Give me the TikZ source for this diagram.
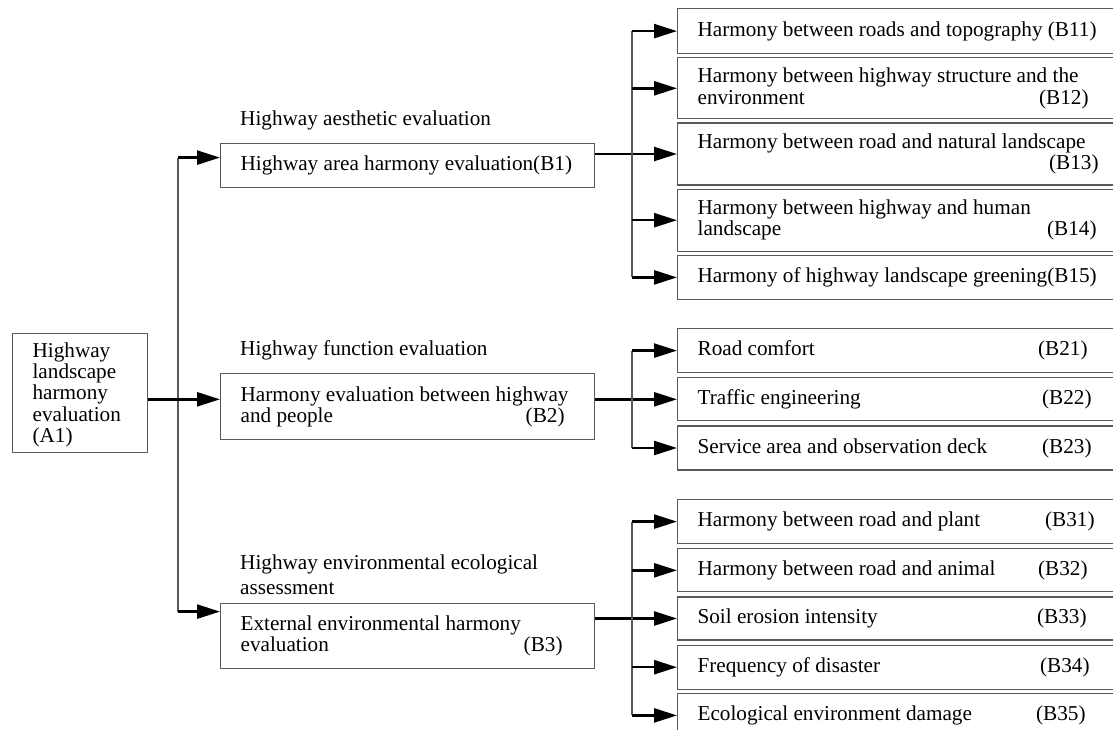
\documentclass[tikz,border=0pt]{standalone}
\usepackage{fontspec}
\setmainfont{Liberation Serif}
\usetikzlibrary{positioning}
\usetikzlibrary{calc}
\usetikzlibrary{arrows.meta}

\newcommand{\itemtag}[2][0pt]{\hspace*{0pt}\hfill\mbox{(#2)\hspace*{#1}}}

\begin{document}
\begin{tikzpicture}[x=1pt,y=-1pt,>={Triangle[length=23pt,width=14pt]}]
	\tikzset{every node/.style = {font={\fontsize{21.2pt}{21.2pt}\selectfont}},
		box/.style = {shape=rectangle, draw=black!65, line width=1.2pt, anchor=north west, align=flush left, inner xsep=20pt, inner ysep=0pt},
		leaf/.style = {box, text width=412pt},
		mid/.style = {box, text width=334pt},
		caption/.style = {anchor=base west, align=left, inner sep=0pt},
		arr/.style = {->, line width=2.5pt},
		branch/.style = {draw=black!65, line width=1.2pt}}
	\useasboundingbox (0,0) rectangle (1113,729);

	% root
	\node[box, text width=95pt, minimum height=119pt] (A1) at (12,333)
	{\\[-3pt]Highway\\landscape\\harmony\\evaluation\\(A1)};

	% second level
	\node[mid, minimum height=44pt] (B1) at (220,143) {Highway area harmony evaluation(B1)};
	\node[mid, minimum height=66pt] (B2) at (220,373) {Harmony evaluation between highway\\and people\itemtag[10pt]{B2}};
	\node[mid, minimum height=65pt] (B3) at (220,603) {External environmental harmony\\evaluation\itemtag[12pt]{B3}};

	\node[caption] (L1) at ([xshift=20pt,yshift=18pt]B1.north west) {Highway aesthetic evaluation};
	\node[caption] (L2) at ([xshift=20pt,yshift=18pt]B2.north west) {Highway function evaluation};
	\node[caption] (L3) at ([xshift=20pt,yshift=9pt]B3.north west) {Highway environmental ecological\\[3pt]assessment};

	% third level
	\node[leaf, minimum height=45pt] (B11) at (677,8) {Harmony between roads and topography (B11)};
	\node[leaf, minimum height=61pt, below=3pt of B11] (B12) {Harmony between highway structure and the\\environment\itemtag[21pt]{B12}};
	\node[leaf, minimum height=62pt, below=3pt of B12] (B13) {Harmony between road and natural landscape\\\itemtag[11pt]{B13}};
	\node[leaf, minimum height=62pt, below=3pt of B13] (B14) {Harmony between highway and human\\landscape\itemtag[13pt]{B14}};
	\node[leaf, minimum height=44pt, below=3pt of B14] (B15) {Harmony of highway landscape greening(B15)};

	\node[leaf, minimum height=44pt] (B21) at (677,328) {Road comfort\itemtag[22pt]{B21}};
	\node[leaf, minimum height=43pt, below=4pt of B21] (B22) {Traffic engineering\itemtag[18pt]{B22}};
	\node[leaf, minimum height=44pt, below=4pt of B22] (B23) {Service area and observation deck\itemtag[18pt]{B23}};

	\node[leaf, minimum height=44pt] (B31) at (677,499) {Harmony between road and plant\itemtag[15pt]{B31}};
	\node[leaf, minimum height=43pt, below=4pt of B31] (B32) {Harmony between road and animal\itemtag[22pt]{B32}};
	\node[leaf, minimum height=43pt, below=4pt of B32] (B33) {Soil erosion intensity\itemtag[23pt]{B33}};
	\node[leaf, minimum height=44pt, below=4pt of B33] (B34) {Frequency of disaster\itemtag[20pt]{B34}};
	\node[leaf, minimum height=44pt, below=3pt of B34] (B35) {Ecological environment damage\itemtag[24pt]{B35}};

	% connectors
	\coordinate (trunk) at (178,0);
	\coordinate (fork) at (632,0);
	\coordinate (inB1) at ([yshift=8pt]B1.west);
	\coordinate (inB3) at ([yshift=24.5pt]B3.west);

	\draw[branch] (trunk |- inB1) -- (trunk |- inB3);
	\draw[arr] (trunk |- inB1) -- (inB1);
	\draw[arr] (trunk |- inB3) -- (inB3);
	\draw[arr] (A1.east |- B22.west) -- (B2.west |- B22.west);

	\draw[arr] (B1.east |- B13.west) -- (B13.west);
	\draw[arr] (B2.east |- B22.west) -- (B22.west);
	\draw[arr] (B3.east |- B33.west) -- (B33.west);

	\draw[branch] (fork |- B11.west) -- (fork |- B15.west);
	\foreach \leaf in {B11,B12,B14,B15}
		\draw[arr] (fork |- \leaf.west) -- (\leaf.west);
	\draw[branch] (fork |- B21.west) -- (fork |- B23.west);
	\foreach \leaf in {B21,B23}
		\draw[arr] (fork |- \leaf.west) -- (\leaf.west);
	\draw[branch] (fork |- B31.west) -- (fork |- B35.west);
	\foreach \leaf in {B31,B32,B34,B35}
		\draw[arr] (fork |- \leaf.west) -- (\leaf.west);
\end{tikzpicture}
\end{document}
